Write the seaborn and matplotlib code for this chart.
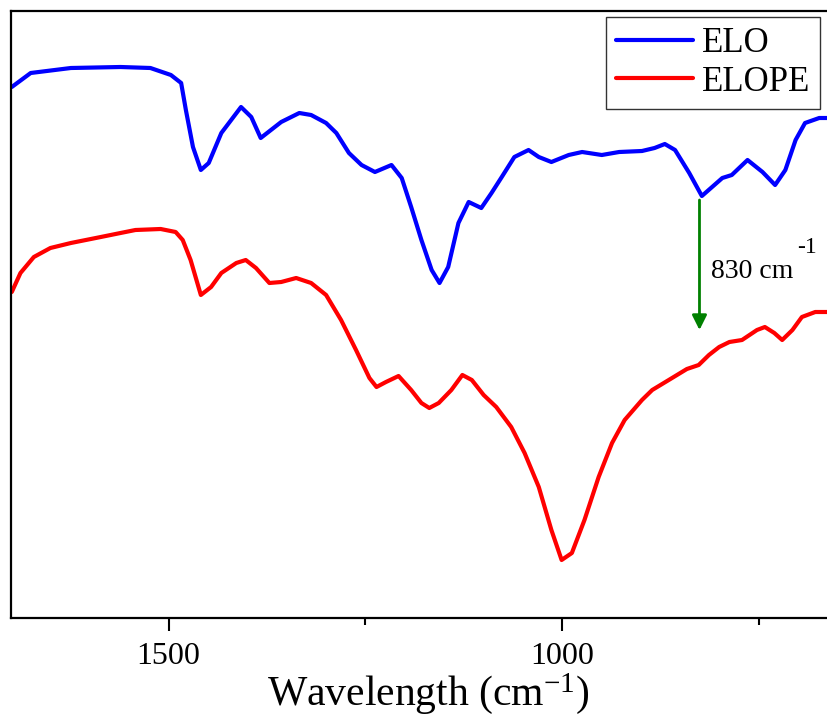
import numpy as np
import pandas as pd
import matplotlib
matplotlib.use("Agg")
import matplotlib.pyplot as plt
from matplotlib.ticker import FixedLocator
from matplotlib.lines import Line2D
import seaborn as sns

# ---------------- data ----------------
elo_wn = [1699, 1675, 1624, 1561, 1523, 1497, 1484, 1478, 1469, 1459, 1449, 1433,
          1408, 1395, 1383, 1370, 1357, 1334, 1319, 1300, 1287, 1271, 1255, 1238,
          1217, 1204, 1192, 1179, 1166, 1156, 1145, 1132, 1119, 1103, 1090, 1077,
          1061, 1043, 1030, 1014, 992, 975, 950, 928, 899, 883, 870, 857, 839,
          823, 810, 797, 785, 765, 746, 730, 717, 704, 692, 674, 661]
elo_t = [531, 545, 550, 551, 550, 543, 535, 508, 471, 448, 455, 485,
         511, 501, 480, 488, 496, 505, 503, 495, 485, 465, 453, 446,
         453, 440, 411, 378, 348, 335, 351, 395, 416, 410, 425, 441,
         461, 468, 461, 456, 463, 466, 463, 466, 467, 470, 474, 468, 445,
         422, 431, 440, 443, 458, 446, 433, 448, 478, 495, 500, 500]

elope_wn = [1699, 1688, 1671, 1650, 1624, 1586, 1561, 1542, 1510, 1491, 1482, 1472,
            1459, 1446, 1433, 1414, 1402, 1389, 1372, 1357, 1338, 1319, 1300, 1281,
            1262, 1245, 1236, 1224, 1208, 1192, 1179, 1169, 1157, 1141, 1127, 1115,
            1100, 1084, 1065, 1048, 1030, 1014, 1001, 988, 972, 954, 937, 921,
            899, 886, 865, 842, 827, 814, 801, 788, 772, 753, 743, 731, 721,
            708, 696, 679, 661]
elope_t = [326, 345, 361, 370, 375, 381, 385, 388, 389, 386, 378, 358,
           323, 331, 345, 355, 358, 350, 335, 336, 340, 335, 323, 298,
           268, 240, 231, 236, 242, 228, 215, 210, 215, 228, 243, 238,
           223, 211, 191, 165, 131, 88, 58, 65, 98, 141, 175, 198,
           218, 228, 238, 249, 253, 263, 271, 276, 278, 288, 291, 285, 278,
           288, 301, 306, 306]

series_names = ["ELO", "ELOPE"]
major_ticks = [1500, 1000]
minor_ticks = [1250, 750]
tick_labels = ["1500", "1000"]
peak_label = "830 cm"
peak_exp = "-1"
peak_wn = 826
peak_from, peak_to = 418, 288

df = pd.concat([
    pd.DataFrame({"wn": elo_wn, "T": elo_t, "sample": series_names[0]}),
    pd.DataFrame({"wn": elope_wn, "T": elope_t, "sample": series_names[1]}),
])

# ---------------- style ----------------
sns.set_style("white")
plt.rcParams["font.family"] = ["Liberation Serif", "DejaVu Serif"]
plt.rcParams["mathtext.fontset"] = "custom"
plt.rcParams["mathtext.rm"] = "Liberation Serif"
plt.rcParams["mathtext.it"] = "Liberation Serif:italic"
plt.rcParams["text.color"] = "black"
plt.rcParams["axes.labelcolor"] = "black"
plt.rcParams["xtick.color"] = "black"
plt.rcParams["xtick.labelcolor"] = "black"

fig = plt.figure(figsize=(8.27, 7.22), dpi=100)
W, H = 827, 722
ax_left, ax_top, ax_bottom = 11, 11.5, 618
ax = fig.add_axes([ax_left / W, (H - ax_bottom) / H, 835 / W, (ax_bottom - ax_top) / H])

sns.lineplot(data=df, x="wn", y="T", hue="sample", palette={"ELO": "blue", "ELOPE": "red"},
             estimator=None, sort=False, linewidth=3, ax=ax, legend=False)

ax.set_xlim(1700, 640)
ax.set_ylim(0, 606.5)

for s in ax.spines.values():
    s.set_color("black")
    s.set_linewidth(1.6)

ax.xaxis.set_major_locator(FixedLocator(major_ticks))
ax.xaxis.set_minor_locator(FixedLocator(minor_ticks))
ax.set_xticklabels(tick_labels)
ax.tick_params(axis="x", which="major", direction="out", length=9.5, width=1.5,
               labelsize=23, pad=8, bottom=True, color="black", labelcolor="black")
ax.tick_params(axis="x", which="minor", direction="out", length=5, width=1.5,
               bottom=True, color="black")
ax.set_yticks([])
ax.set_ylabel("")
ax.set_xlabel(r"Wavelength (cm$^{\mathrm{-1}}$)", fontsize=30, labelpad=0, color="black")

# legend
handles = [Line2D([], [], color="blue", lw=3), Line2D([], [], color="red", lw=3)]
leg = fig.legend(handles, series_names, loc="upper left",
                 bbox_to_anchor=(606 / W, (H - 17) / H), bbox_transform=fig.transFigure,
                 borderaxespad=0, fontsize=25, frameon=True, fancybox=False,
                 edgecolor="black", handlelength=2.2, handletextpad=0.25,
                 borderpad=0.3, labelspacing=0.15)
leg.get_frame().set_linewidth(1.0)
for t in leg.get_texts():
    t.set_color("black")

# annotation arrow
ax.annotate("", xy=(peak_wn, peak_to), xytext=(peak_wn, peak_from),
            arrowprops=dict(arrowstyle="-|>", color="green", lw=2, mutation_scale=22,
                            shrinkA=0, shrinkB=0))
ax.text(peak_wn - 14, 340, peak_label, fontsize=20, ha="left", va="baseline", color="black")
ax.text(peak_wn - 124, 365, peak_exp, fontsize=17, ha="left", va="baseline", color="black")

fig.savefig("out.png", dpi=100)
